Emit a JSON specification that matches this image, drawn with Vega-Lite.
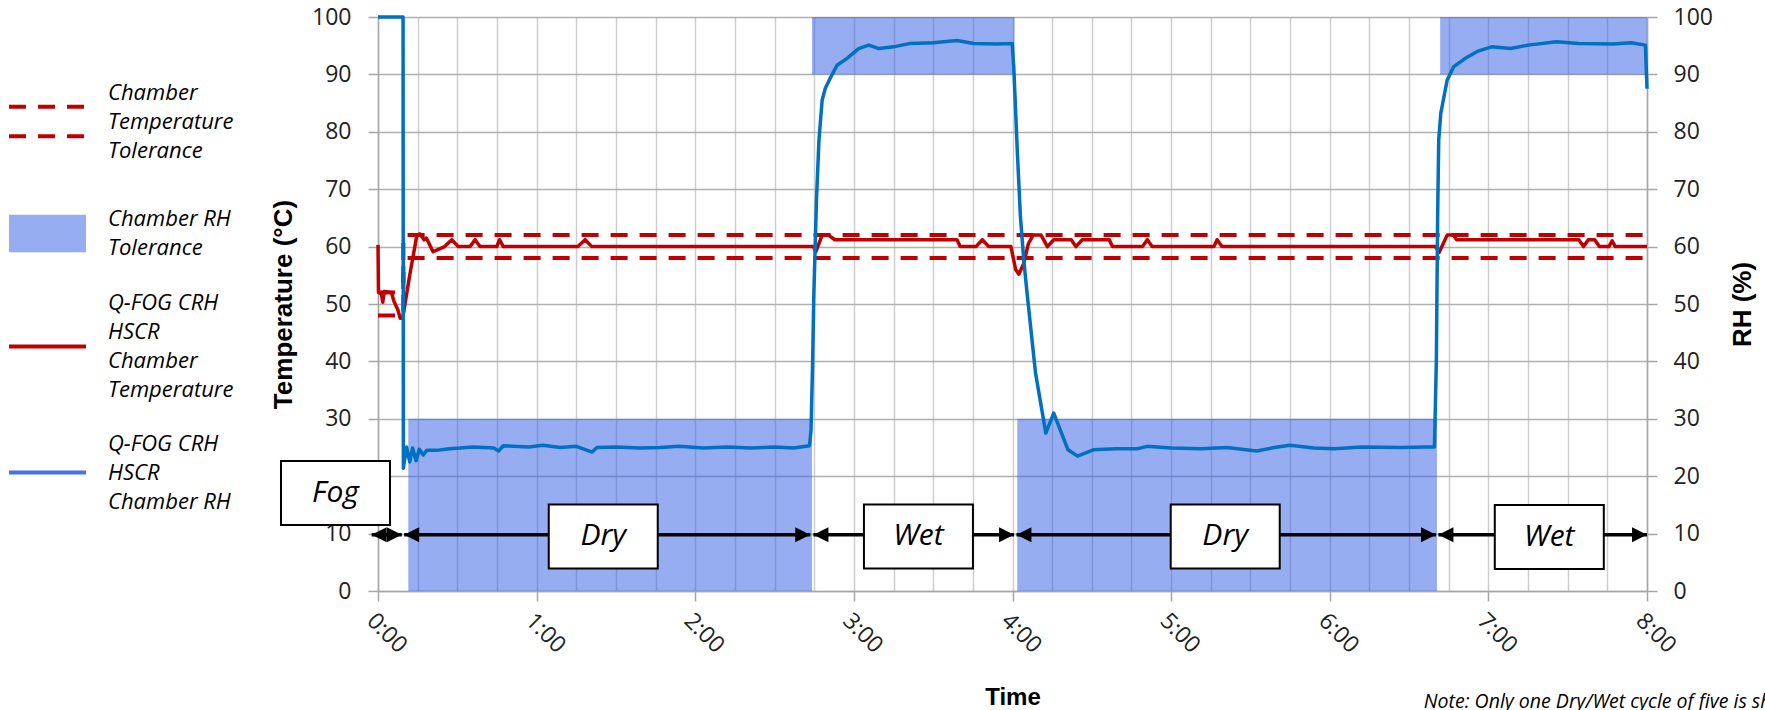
{
  "$schema": "https://vega.github.io/schema/vega-lite/v6.json",
  "width": 1269,
  "height": 574,
  "autosize": {"type": "none"},
  "padding": {"left": 378, "top": 17, "right": 118, "bottom": 119},
  "background": "white",
  "config": {
    "view": {"stroke": null},
    "font": "Open Sans",
    "axis": {"labelFlush": false, "labelOverlap": false}
  },
  "datasets": {
    "hatch": [
      {"t": 0.191, "t2": 2.736, "low": 0, "high": 30, "series": "Chamber RH|Tolerance"},
      {"t": 2.736, "t2": 4.013, "low": 90, "high": 100, "series": "Chamber RH|Tolerance"},
      {"t": 4.03, "t2": 6.676, "low": 0, "high": 30, "series": "Chamber RH|Tolerance"},
      {"t": 6.696, "t2": 8.0, "low": 90, "high": 100, "series": "Chamber RH|Tolerance"}
    ],
    "tol": [
      {"g": "upper", "i": 0, "t": 0, "v": 52},
      {"g": "upper", "i": 1, "t": 0.16, "v": 52},
      {"g": "upper", "i": 2, "t": 0.16, "v": 62},
      {"g": "upper", "i": 3, "t": 8.0, "v": 62},
      {"g": "lower", "i": 0, "t": 0, "v": 48},
      {"g": "lower", "i": 1, "t": 0.16, "v": 48},
      {"g": "lower", "i": 2, "t": 0.16, "v": 58},
      {"g": "lower", "i": 3, "t": 8.0, "v": 58}
    ],
    "temp": [
      {"t": 0, "v": 60.3}, {"t": 0.003, "v": 52}, {"t": 0.02, "v": 52}, {"t": 0.03, "v": 50.3},
      {"t": 0.04, "v": 52.2}, {"t": 0.085, "v": 52}, {"t": 0.1, "v": 50.5}, {"t": 0.125, "v": 49},
      {"t": 0.14, "v": 47.5}, {"t": 0.155, "v": 47.5}, {"t": 0.2, "v": 55}, {"t": 0.245, "v": 62},
      {"t": 0.265, "v": 62.2}, {"t": 0.29, "v": 61.2}, {"t": 0.305, "v": 61.5}, {"t": 0.347, "v": 59.1},
      {"t": 0.42, "v": 60}, {"t": 0.465, "v": 61.2}, {"t": 0.506, "v": 60}, {"t": 0.58, "v": 60},
      {"t": 0.612, "v": 61.2}, {"t": 0.643, "v": 60}, {"t": 0.749, "v": 60}, {"t": 0.766, "v": 61.2},
      {"t": 0.79, "v": 60}, {"t": 1.26, "v": 60}, {"t": 1.306, "v": 61.2}, {"t": 1.348, "v": 60},
      {"t": 2.745, "v": 60}, {"t": 2.76, "v": 59.1}, {"t": 2.8, "v": 62}, {"t": 2.84, "v": 62},
      {"t": 2.88, "v": 61.2}, {"t": 3.65, "v": 61.2}, {"t": 3.67, "v": 60}, {"t": 3.77, "v": 60},
      {"t": 3.81, "v": 61.2}, {"t": 3.85, "v": 60}, {"t": 3.99, "v": 60}, {"t": 4.02, "v": 56},
      {"t": 4.04, "v": 55.2}, {"t": 4.07, "v": 57}, {"t": 4.1, "v": 60.5}, {"t": 4.13, "v": 62},
      {"t": 4.18, "v": 62}, {"t": 4.22, "v": 60}, {"t": 4.26, "v": 61.2}, {"t": 4.37, "v": 61.2},
      {"t": 4.4, "v": 60}, {"t": 4.44, "v": 61.2}, {"t": 4.61, "v": 61.2}, {"t": 4.63, "v": 60},
      {"t": 4.82, "v": 60}, {"t": 4.85, "v": 61.2}, {"t": 4.88, "v": 60}, {"t": 5.27, "v": 60},
      {"t": 5.29, "v": 61.2}, {"t": 5.32, "v": 60}, {"t": 6.665, "v": 60}, {"t": 6.69, "v": 59},
      {"t": 6.74, "v": 62}, {"t": 6.78, "v": 62}, {"t": 6.8, "v": 61.2}, {"t": 7.57, "v": 61.2},
      {"t": 7.6, "v": 60}, {"t": 7.63, "v": 61.2}, {"t": 7.67, "v": 61.2}, {"t": 7.7, "v": 60},
      {"t": 7.76, "v": 60}, {"t": 7.78, "v": 61}, {"t": 7.8, "v": 60}, {"t": 8.0, "v": 60}
    ],
    "rh": [
      {"t": 0, "v": 100}, {"t": 0.158, "v": 100}, {"t": 0.16, "v": 21.4}, {"t": 0.18, "v": 25.1},
      {"t": 0.2, "v": 22.5}, {"t": 0.218, "v": 24.9}, {"t": 0.24, "v": 22.7}, {"t": 0.26, "v": 24.7},
      {"t": 0.285, "v": 23.7}, {"t": 0.307, "v": 24.5}, {"t": 0.37, "v": 24.5}, {"t": 0.45, "v": 24.8},
      {"t": 0.517, "v": 24.9}, {"t": 0.6, "v": 25.1}, {"t": 0.73, "v": 24.9}, {"t": 0.76, "v": 24.4},
      {"t": 0.79, "v": 25.3}, {"t": 0.95, "v": 25.1}, {"t": 1.04, "v": 25.4}, {"t": 1.15, "v": 25},
      {"t": 1.25, "v": 25.2}, {"t": 1.35, "v": 24.2}, {"t": 1.38, "v": 25}, {"t": 1.5, "v": 25.1},
      {"t": 1.65, "v": 24.9}, {"t": 1.78, "v": 25}, {"t": 1.9, "v": 25.2}, {"t": 2.05, "v": 24.9},
      {"t": 2.2, "v": 25.1}, {"t": 2.35, "v": 24.9}, {"t": 2.5, "v": 25.1}, {"t": 2.62, "v": 24.9},
      {"t": 2.72, "v": 25.3}, {"t": 2.73, "v": 28}, {"t": 2.74, "v": 40}, {"t": 2.747, "v": 51},
      {"t": 2.764, "v": 68}, {"t": 2.78, "v": 78.6}, {"t": 2.8, "v": 85.5}, {"t": 2.82, "v": 87.6},
      {"t": 2.85, "v": 89.3}, {"t": 2.894, "v": 91.6}, {"t": 2.957, "v": 92.8}, {"t": 3.03, "v": 94.5},
      {"t": 3.094, "v": 95.1}, {"t": 3.157, "v": 94.5}, {"t": 3.25, "v": 94.8}, {"t": 3.356, "v": 95.4},
      {"t": 3.5, "v": 95.5}, {"t": 3.65, "v": 95.9}, {"t": 3.756, "v": 95.4}, {"t": 3.9, "v": 95.3},
      {"t": 3.998, "v": 95.4}, {"t": 4.008, "v": 91.3}, {"t": 4.03, "v": 76.8}, {"t": 4.05, "v": 65.2},
      {"t": 4.07, "v": 58}, {"t": 4.09, "v": 52.4}, {"t": 4.145, "v": 38}, {"t": 4.21, "v": 27.5},
      {"t": 4.26, "v": 31}, {"t": 4.35, "v": 24.6}, {"t": 4.41, "v": 23.5}, {"t": 4.51, "v": 24.6},
      {"t": 4.65, "v": 24.8}, {"t": 4.79, "v": 24.8}, {"t": 4.85, "v": 25.2}, {"t": 5.0, "v": 24.9},
      {"t": 5.19, "v": 24.8}, {"t": 5.35, "v": 25}, {"t": 5.54, "v": 24.4}, {"t": 5.65, "v": 25},
      {"t": 5.75, "v": 25.4}, {"t": 5.9, "v": 24.9}, {"t": 6.03, "v": 24.8}, {"t": 6.2, "v": 25.1},
      {"t": 6.45, "v": 25}, {"t": 6.6, "v": 25.1}, {"t": 6.66, "v": 25.1}, {"t": 6.672, "v": 40},
      {"t": 6.68, "v": 65}, {"t": 6.687, "v": 78.6}, {"t": 6.7, "v": 83.2}, {"t": 6.72, "v": 86.1},
      {"t": 6.74, "v": 89}, {"t": 6.78, "v": 91.3}, {"t": 6.855, "v": 92.8}, {"t": 6.93, "v": 94},
      {"t": 7.02, "v": 94.8}, {"t": 7.14, "v": 94.5}, {"t": 7.25, "v": 95.1}, {"t": 7.43, "v": 95.7},
      {"t": 7.57, "v": 95.4}, {"t": 7.78, "v": 95.3}, {"t": 7.9, "v": 95.5}, {"t": 7.99, "v": 95.1},
      {"t": 8.0, "v": 87.5}
    ],
    "arrowpts": [
      {"arrow": "Fog", "t": -0.04, "v": 9.8, "dir": "left"},
      {"arrow": "Fog", "t": 0.15, "v": 9.8, "dir": "right"},
      {"arrow": "Dry 1", "t": 0.165, "v": 9.8, "dir": "left"},
      {"arrow": "Dry 1", "t": 2.725, "v": 9.8, "dir": "right"},
      {"arrow": "Wet 1", "t": 2.745, "v": 9.8, "dir": "left"},
      {"arrow": "Wet 1", "t": 4.01, "v": 9.8, "dir": "right"},
      {"arrow": "Dry 2", "t": 4.025, "v": 9.8, "dir": "left"},
      {"arrow": "Dry 2", "t": 6.67, "v": 9.8, "dir": "right"},
      {"arrow": "Wet 2", "t": 6.685, "v": 9.8, "dir": "left"},
      {"arrow": "Wet 2", "t": 8.0, "v": 9.8, "dir": "right"}
    ],
    "boxes": [
      {"phase": "Fog", "t": -0.268, "v": 17.07},
      {"phase": "Dry", "t": 1.42, "v": 9.5},
      {"phase": "Wet", "t": 3.407, "v": 9.5},
      {"phase": "Dry", "t": 5.341, "v": 9.5},
      {"phase": "Wet", "t": 7.384, "v": 9.4}
    ],
    "note": [
      {"t": 6.593, "v": -20.3, "text": "Note: Only one Dry/Wet cycle of five is shown"}
    ]
  },
  "encoding": {
    "x": {
      "field": "t", "type": "quantitative", "scale": {"domain": [0, 8], "nice": false, "zero": false},
      "axis": {
        "values": [0, 0.25, 0.5, 0.75, 1, 1.25, 1.5, 1.75, 2, 2.25, 2.5, 2.75, 3, 3.25, 3.5, 3.75, 4, 4.25, 4.5, 4.75, 5, 5.25, 5.5, 5.75, 6, 6.25, 6.5, 6.75, 7, 7.25, 7.5, 7.75, 8],
        "grid": true, "gridColor": "#CDCDCD", "gridWidth": 1.5,
        "domain": true, "domainColor": "#A6A6A6", "domainWidth": 1.5,
        "ticks": true, "tickColor": "#A6A6A6", "tickSize": 10, "tickWidth": 1.5,
        "tickOpacity": {"condition": {"test": "datum.value % 1 === 0", "value": 1}, "value": 0},
        "labelExpr": "datum.value % 1 === 0 ? floor(datum.value) + ':00' : ''",
        "labelAngle": 45, "labelAlign": "left", "labelBaseline": "top",
        "labelFont": "Open Sans", "labelFontSize": 23, "labelColor": "#222222", "labelPadding": 8,
        "title": "Time", "titleFont": "Liberation Sans", "titleFontWeight": "bold", "titleFontSize": 24,
        "titleColor": "#000000", "titlePadding": 28
      }
    }
  },
  "resolve": {"scale": {"y": "independent"}, "axis": {"y": "independent"}},
  "layer": [
    {
      "data": {"name": "hatch"},
      "mark": {"type": "rect", "fillOpacity": 0.5, "strokeWidth": 0},
      "encoding": {
        "x2": {"field": "t2"},
        "y": {
          "field": "low", "type": "quantitative",
          "scale": {"domain": [0, 100], "nice": false},
          "axis": {
            "orient": "right", "values": [0, 10, 20, 30, 40, 50, 60, 70, 80, 90, 100],
            "grid": false, "domain": true, "domainColor": "#A6A6A6", "domainWidth": 1.5,
            "ticks": true, "tickColor": "#A6A6A6", "tickSize": 10, "tickWidth": 1.5,
            "labelFont": "Open Sans", "labelFontSize": 23, "labelColor": "#222222", "labelPadding": 16,
            "title": "RH (%)", "titleFont": "Liberation Sans", "titleFontWeight": "bold", "titleFontSize": 26,
            "titleColor": "#000000", "titleAngle": 270, "titleBaseline": "top", "titlePadding": 17
          }
        },
        "y2": {"field": "high"},
        "color": {
          "field": "series", "type": "nominal",
          "scale": {
            "domain": ["Chamber|Temperature|Tolerance", "Chamber RH|Tolerance", "Q-FOG CRH|HSCR|Chamber|Temperature", "Q-FOG CRH|HSCR|Chamber RH"],
            "range": ["#C00000", "#2E5BE6", "#C00000", "#4472E8"]
          },
          "legend": {
            "orient": "none", "legendX": -371, "legendY": 64, "title": null, "direction": "vertical",
            "padding": 0, "rowPadding": 31, "symbolSize": 5929, "symbolType": "M-1,0H1", "symbolStrokeWidth": 4,
            "labelOffset": 20, "labelFont": "Open Sans", "labelFontStyle": "italic", "labelFontSize": 22,
            "labelColor": "#000000", "labelLimit": 0, "labelExpr": "split(datum.label, '|')",
            "encode": {
              "symbols": {
                "update": {
                  "shape": {"signal": "datum.value == 'Chamber|Temperature|Tolerance' ? 'M-1,-0.38H1M-1,0.38H1' : datum.value == 'Chamber RH|Tolerance' ? 'M-1,-0.49H1V0.49H-1Z' : 'M-1,0H1'"},
                  "stroke": {"signal": "datum.value == 'Chamber RH|Tolerance' ? 'transparent' : datum.value == 'Q-FOG CRH|HSCR|Chamber RH' ? '#4472E8' : '#C00000'"},
                  "fill": {"signal": "datum.value == 'Chamber RH|Tolerance' ? '#2E5BE6' : 'transparent'"},
                  "fillOpacity": {"signal": "datum.value == 'Chamber RH|Tolerance' ? 0.5 : 0"},
                  "strokeOpacity": {"value": 1},
                  "opacity": {"value": 1},
                  "strokeDash": {"signal": "datum.value == 'Chamber|Temperature|Tolerance' ? [17, 12] : null"},
                  "strokeWidth": {"value": 4},
                  "size": {"value": 5929}
                }
              },
              "labels": {
                "update": {
                  "lineHeight": {"value": 29},
                  "dy": {"signal": "-(length(split(datum.label, '|')) - 1) * 14.5"}
                }
              }
            }
          }
        }
      }
    },
    {
      "data": {"name": "tol"},
      "mark": {"type": "line", "stroke": "#C00000", "strokeWidth": 4, "strokeDash": [17, 12]},
      "encoding": {
        "y": {
          "field": "v", "type": "quantitative", "scale": {"domain": [0, 100], "nice": false},
          "axis": {
            "orient": "left", "values": [0, 10, 20, 30, 40, 50, 60, 70, 80, 90, 100],
            "grid": true, "gridColor": "#B0B0B0", "gridWidth": 1.5,
            "domain": true, "domainColor": "#A6A6A6", "domainWidth": 1.5,
            "ticks": true, "tickColor": "#A6A6A6", "tickSize": 10, "tickWidth": 1.5,
            "labelFont": "Open Sans", "labelFontSize": 23, "labelColor": "#222222", "labelPadding": 17,
            "title": "Temperature (°C)", "titleFont": "Liberation Sans", "titleFontWeight": "bold", "titleFontSize": 26,
            "titleColor": "#000000", "titlePadding": 15
          }
        },
        "detail": {"field": "g", "type": "nominal"},
        "order": {"field": "i", "type": "quantitative"}
      }
    },
    {
      "data": {"name": "temp"},
      "mark": {"type": "line", "stroke": "#C00000", "strokeWidth": 3.5, "strokeJoin": "round"},
      "encoding": {
        "y": {"field": "v", "type": "quantitative", "scale": {"domain": [0, 100], "nice": false}, "axis": null}
      }
    },
    {
      "data": {"name": "rh"},
      "mark": {"type": "line", "stroke": "#0070C0", "strokeWidth": 3.5, "strokeJoin": "round"},
      "encoding": {
        "y": {"field": "v", "type": "quantitative", "scale": {"domain": [0, 100], "nice": false}, "axis": null}
      }
    },
    {
      "data": {"name": "arrowpts"},
      "mark": {"type": "line", "stroke": "#000000", "strokeWidth": 3.5},
      "encoding": {
        "y": {"field": "v", "type": "quantitative", "scale": {"domain": [0, 100], "nice": false}, "axis": null},
        "detail": {"field": "arrow", "type": "nominal"}
      }
    },
    {
      "data": {"name": "arrowpts"},
      "mark": {"type": "point", "size": 900, "filled": true, "fill": "#000000", "strokeWidth": 0, "opacity": 1},
      "encoding": {
        "y": {"field": "v", "type": "quantitative", "scale": {"domain": [0, 100], "nice": false}, "axis": null},
        "shape": {
          "field": "dir", "type": "nominal",
          "scale": {"domain": ["left", "right"], "range": ["M0,0L1,-0.5L1,0.5Z", "M0,0L-1,-0.5L-1,0.5Z"]},
          "legend": null
        }
      }
    },
    {
      "data": {"name": "boxes"},
      "mark": {"type": "point", "shape": "M-1,-0.587H1V0.587H-1Z", "size": 11881, "filled": true, "fill": "#FFFFFF", "stroke": "#000000", "strokeWidth": 2, "opacity": 1, "fillOpacity": 1, "strokeOpacity": 1},
      "encoding": {
        "y": {"field": "v", "type": "quantitative", "scale": {"domain": [0, 100], "nice": false}, "axis": null}
      }
    },
    {
      "data": {"name": "boxes"},
      "mark": {"type": "text", "font": "Open Sans", "fontStyle": "italic", "fontSize": 30, "color": "#000000", "align": "center", "baseline": "middle"},
      "encoding": {
        "y": {"field": "v", "type": "quantitative", "scale": {"domain": [0, 100], "nice": false}, "axis": null},
        "text": {"field": "phase"}
      }
    },
    {
      "data": {"name": "note"},
      "mark": {"type": "text", "font": "Open Sans", "fontStyle": "italic", "fontSize": 19.5, "color": "#000000", "align": "left", "baseline": "alphabetic"},
      "encoding": {
        "y": {"field": "v", "type": "quantitative", "scale": {"domain": [0, 100], "nice": false}, "axis": null},
        "text": {"field": "text"}
      }
    }
  ]
}
